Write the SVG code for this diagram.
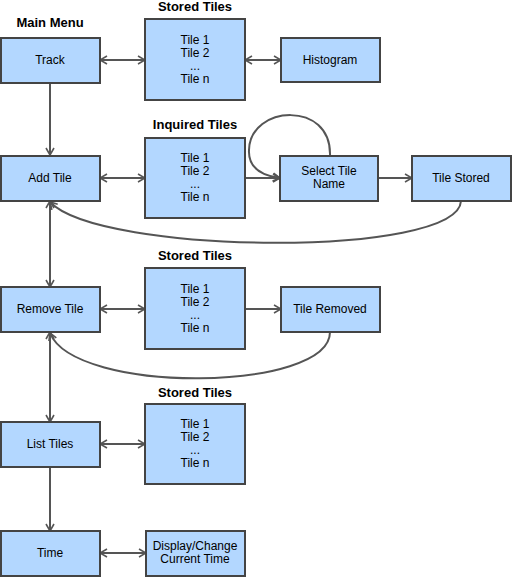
<svg xmlns="http://www.w3.org/2000/svg" width="512" height="577" viewBox="0 0 512 577">
<style>
.box{fill:#b3d7ff;stroke:#444;stroke-width:2}
.t{font-family:"Liberation Sans",Arial,sans-serif;font-size:12px;fill:#000;text-anchor:middle}
.h{font-family:"Liberation Sans",Arial,sans-serif;font-size:13px;font-weight:bold;fill:#000;text-anchor:middle}
.c{fill:none;stroke:#555;stroke-width:2}
</style>
<defs>
<marker id="ar" viewBox="0 0 10 10" refX="9" refY="5" markerWidth="10" markerHeight="10" markerUnits="userSpaceOnUse" orient="auto-start-reverse">
<path d="M2,1 L9,5 L2,9" fill="none" stroke="#555" stroke-width="1.6"/>
</marker>
</defs>
<rect width="512" height="577" fill="#fff"/>
<g id="titles">
<text class="h" x="50" y="27">Main Menu</text>
<text class="h" x="195" y="11">Stored Tiles</text>
<text class="h" x="195" y="129">Inquired Tiles</text>
<text class="h" x="195" y="260">Stored Tiles</text>
<text class="h" x="195" y="397">Stored Tiles</text>
</g>
<g id="connectors">
<path class="c" d="M100,60 H145" marker-start="url(#ar)" marker-end="url(#ar)"/>
<path class="c" d="M245,60 H281" marker-start="url(#ar)" marker-end="url(#ar)"/>
<path class="c" d="M50,83 V155" marker-end="url(#ar)"/>
<path class="c" d="M100,178 H145" marker-start="url(#ar)" marker-end="url(#ar)"/>
<path class="c" d="M245,178 H280" marker-end="url(#ar)"/>
<path class="c" d="M330,156 C332,100 250,105 249,150 C248,170 265,176 280,178" marker-end="url(#ar)"/>
<path class="c" d="M378,178 H412" marker-end="url(#ar)"/>
<path class="c" d="M461,201 C458,258 100,255 50,202" marker-end="url(#ar)"/>
<path class="c" d="M50,201 V287" marker-start="url(#ar)" marker-end="url(#ar)"/>
<path class="c" d="M100,309 H145" marker-start="url(#ar)" marker-end="url(#ar)"/>
<path class="c" d="M245,309 H281" marker-end="url(#ar)"/>
<path class="c" d="M330,332 C330,392 75,395 50,333" marker-end="url(#ar)"/>
<path class="c" d="M50,332 V422" marker-start="url(#ar)" marker-end="url(#ar)"/>
<path class="c" d="M100,444 H145" marker-start="url(#ar)" marker-end="url(#ar)"/>
<path class="c" d="M50,467 V531" marker-end="url(#ar)"/>
<path class="c" d="M100,553 H146" marker-start="url(#ar)" marker-end="url(#ar)"/>
</g>
<g id="track"><rect class="box" x="1" y="38" width="99" height="45"/><text class="t" x="50" y="64">Track</text></g>
<g id="stored1"><rect class="box" x="145" y="19" width="100" height="81"/>
<text class="t" x="195" y="44">Tile 1</text><text class="t" x="195" y="57">Tile 2</text><text class="t" x="195" y="70">...</text><text class="t" x="195" y="83">Tile n</text></g>
<g id="histogram"><rect class="box" x="281" y="38" width="99" height="44"/><text class="t" x="330" y="64">Histogram</text></g>
<g id="addtile"><rect class="box" x="1" y="156" width="99" height="45"/><text class="t" x="50" y="182">Add Tile</text></g>
<g id="inquired"><rect class="box" x="145" y="138" width="100" height="80"/>
<text class="t" x="195" y="162">Tile 1</text><text class="t" x="195" y="175">Tile 2</text><text class="t" x="195" y="188">...</text><text class="t" x="195" y="201">Tile n</text></g>
<g id="select"><rect class="box" x="280" y="156" width="98" height="45"/><text class="t" x="329" y="175">Select Tile</text><text class="t" x="329" y="188">Name</text></g>
<g id="tilestored"><rect class="box" x="412" y="156" width="99" height="45"/><text class="t" x="461" y="182">Tile Stored</text></g>
<g id="removetile"><rect class="box" x="1" y="287" width="99" height="45"/><text class="t" x="50" y="313">Remove Tile</text></g>
<g id="stored3"><rect class="box" x="145" y="268" width="100" height="81"/>
<text class="t" x="195" y="293">Tile 1</text><text class="t" x="195" y="306">Tile 2</text><text class="t" x="195" y="319">...</text><text class="t" x="195" y="332">Tile n</text></g>
<g id="tileremoved"><rect class="box" x="281" y="287" width="99" height="45"/><text class="t" x="330" y="313">Tile Removed</text></g>
<g id="listtiles"><rect class="box" x="1" y="422" width="99" height="45"/><text class="t" x="50" y="448">List Tiles</text></g>
<g id="stored4"><rect class="box" x="145" y="404" width="100" height="80"/>
<text class="t" x="195" y="428">Tile 1</text><text class="t" x="195" y="441">Tile 2</text><text class="t" x="195" y="454">...</text><text class="t" x="195" y="467">Tile n</text></g>
<g id="time"><rect class="box" x="1" y="531" width="99" height="45"/><text class="t" x="50" y="557">Time</text></g>
<g id="display"><rect class="box" x="146" y="531" width="99" height="45"/><text class="t" x="195" y="550">Display/Change</text><text class="t" x="195" y="563">Current Time</text></g>
</svg>
